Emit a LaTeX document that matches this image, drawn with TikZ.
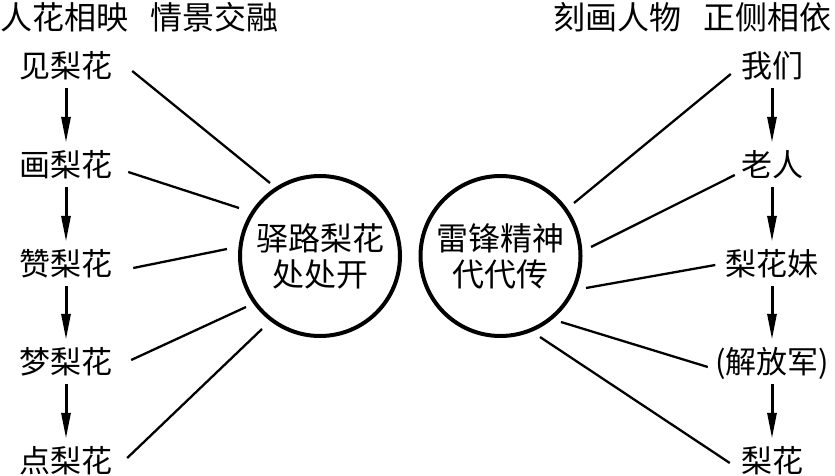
\documentclass[tikz,border=0pt]{standalone}
\usepackage{fontspec}
\setmainfont{Noto Sans CJK SC}
\usetikzlibrary{arrows.meta}
\tikzset{
  lbl/.style={inner sep=0pt, minimum height=44pt, font=\fontsize{31}{36}\selectfont, text height=27pt, text depth=4pt},
  ttl/.style={inner sep=0pt, font=\fontsize{32}{36}\selectfont},
  hub/.style={circle, draw, line width=4pt, minimum size=160pt, inner sep=0pt, align=center, font=\fontsize{32}{36}\selectfont},
  arr/.style={line width=3pt, -{Triangle[length=26pt,width=9pt]}},
  spoke/.style={line width=2.3pt},
}
\begin{document}
\begin{tikzpicture}[x=1pt,y=-1pt]
\useasboundingbox (0,0) rectangle (835,476);
% titles
\node[ttl, anchor=west] (tl) at (0,17) {人花相映\hspace{22pt}情景交融};
\node[ttl, anchor=east] (tr) at (832,17) {刻画人物\hspace{22pt}正侧相依};
% left column
\node[lbl] (l1) at (66,66) {见梨花};
\node[lbl] (l2) at (66,165) {画梨花};
\node[lbl] (l3) at (66,264) {赞梨花};
\node[lbl] (l4) at (66,362) {梦梨花};
\node[lbl] (l5) at (66,461) {点梨花};
% right column
\node[lbl] (r1) at (772,66) {我们};
\node[lbl] (r2) at (772,165) {老人};
\node[lbl] (r3) at (772,264) {梨花妹};
\node[lbl] (r4) at (772,362) {(解放军)};
\node[lbl] (r5) at (772,461) {梨花};
% hubs
\node[hub] (cl) at (320,256) {驿路梨花\\处处开};
\node[hub] (cr) at (500.5,256) {雷锋精神\\代代传};
% arrows
\draw[arr] (l1) -- (l2);
\draw[arr] (l2) -- (l3);
\draw[arr] (l3) -- (l4);
\draw[arr] (l4) -- (l5);
\draw[arr] (r1) -- (r2);
\draw[arr] (r2) -- (r3);
\draw[arr] (r3) -- (r4);
\draw[arr] (r4) -- (r5);
% spoke ends near hubs
\coordinate (cl1) at (270,183);
\coordinate (cl2) at (239,208);
\coordinate (cl3) at (227,249);
\coordinate (cl4) at (246,307);
\coordinate (cl5) at (262,329);
\coordinate (cr1) at (574,203);
\coordinate (cr2) at (591,247);
\coordinate (cr3) at (586,288);
\coordinate (cr4) at (561,322);
\coordinate (cr5) at (540,337);
% spokes
\draw[spoke] ([shift={(19.5,5)}]l1.east) -- (cl1);
\draw[spoke] ([shift={(15.5,7)}]l2.east) -- (cl2);
\draw[spoke] ([shift={(20.5,4)}]l3.east) -- (cl3);
\draw[spoke] ([shift={(18.5,-2)}]l4.east) -- (cl4);
\draw[spoke] ([shift={(14.5,-3)}]l5.east) -- (cl5);
\draw[spoke] ([shift={(-10,8)}]r1.west) -- (cr1);
\draw[spoke] ([shift={(-6,10)}]r2.west) -- (cr2);
\draw[spoke] ([shift={(-10,1)}]r3.west) -- (cr3);
\draw[spoke] ([shift={(-7,5)}]r4.west) -- (cr4);
\draw[spoke] ([shift={(-11,2)}]r5.west) -- (cr5);
\end{tikzpicture}
\end{document}
